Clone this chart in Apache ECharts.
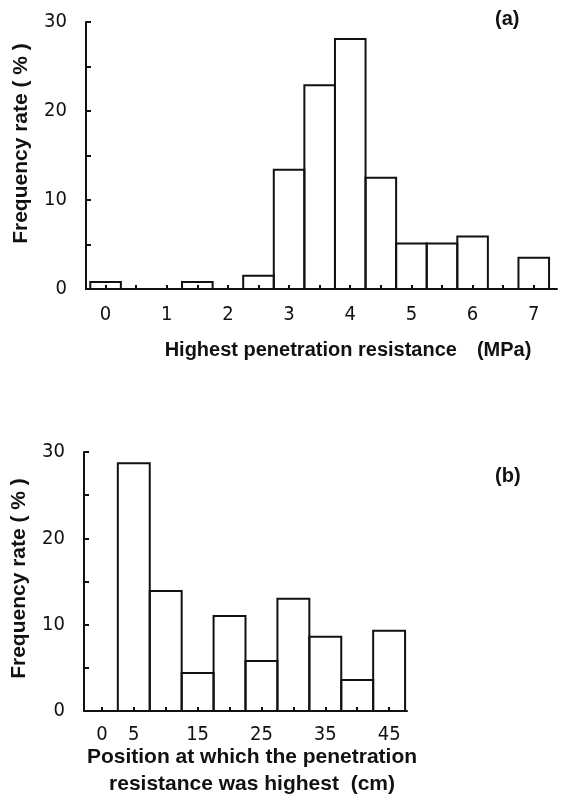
<!DOCTYPE html>
<html>
<head>
<meta charset="utf-8">
<script src="https://cdn.jsdelivr.net/npm/echarts@6/dist/echarts.min.js"></script>
<style>
  html, body { margin: 0; padding: 0; background: #fff; }
  #main { width: 566px; height: 801px; }
</style>
</head>
<body>
<div id="main"></div>
<script>
// (a) highest penetration resistance, MPa -> frequency %
var pressureBins = [0, 0.5, 1, 1.5, 2, 2.5, 3, 3.5, 4, 4.5, 5, 5.5, 6, 6.5, 7];
var pressureFreq = [0.8, 0, 0, 0.8, 0, 1.5, 13.4, 22.9, 28.1, 12.5, 5.1, 5.1, 5.9, 0, 3.5];
var pressureTicks = [0, 0.5, 1, 1.5, 2, 2.5, 3, 3.5, 4, 4.5, 5, 5.5, 6, 6.5, 7];
var pressureLabels = [0, 1, 2, 3, 4, 5, 6, 7];

// (b) depth of the highest resistance, cm -> frequency %
var depthBins = [5, 10, 15, 20, 25, 30, 35, 40, 45];
var depthFreq = [28.7, 13.9, 4.4, 11.0, 5.8, 13.0, 8.6, 3.6, 9.3];
var depthTicks = [0, 5, 10, 15, 20, 25, 30, 35, 40, 45];
var depthLabels = [0, 5, 15, 25, 35, 45];

var ink = '#111';
var narrow = "'Liberation Sans Narrow', 'DejaVu Sans Condensed', sans-serif";
var bold = "'Liberation Sans', Arial, sans-serif";

function histBars(halfWidth) {
    return function(params, api) {
        var x = api.value(0), v = api.value(1);
        if (!v) return;
        var p0 = api.coord([x - halfWidth, v]);
        var p1 = api.coord([x + halfWidth, 0]);
        return {
            type: 'rect',
            shape: { x: p0[0], y: p0[1], width: p1[0] - p0[0], height: p1[1] - p0[1] },
            style: { fill: 'none', stroke: ink, lineWidth: 2 }
        };
    };
}

function zip(a, b) {
    return a.map(function(x, i) { return [x, b[i]]; });
}

function xAxisCfg(grid, min, max, ticks, labels, name, gap, size, pad, margin) {
    return {
        type: 'value', gridIndex: grid, min: min, max: max,
        splitLine: { show: false },
        axisLine: { onZero: false, lineStyle: { color: ink, width: 2 } },
        axisTick: { inside: true, length: 4, customValues: ticks, lineStyle: { color: ink, width: 2 } },
        axisLabel: { customValues: labels, margin: margin, fontFamily: narrow, fontSize: 20, color: ink },
        name: name, nameLocation: 'middle', nameGap: gap, nameMoveOverlap: false,
        nameTextStyle: { fontFamily: bold, fontWeight: 'bold', fontSize: size, color: ink, lineHeight: 27, padding: pad }
    };
}

function yAxisCfg(grid, gap, pad) {
    return {
        type: 'value', gridIndex: grid, min: 0, max: 30, interval: 10,
        splitLine: { show: false },
        axisLine: { show: true, onZero: false, lineStyle: { color: ink, width: 2 } },
        axisTick: { show: true, inside: true, length: 5, lineStyle: { color: ink, width: 2 } },
        minorTick: { show: true, splitNumber: 2, length: 5, lineStyle: { color: ink, width: 2 } },
        axisLabel: { margin: 19, fontFamily: narrow, fontSize: 20, color: ink },
        name: 'Frequency rate ( % )', nameLocation: 'middle', nameGap: gap, nameMoveOverlap: false,
        nameTextStyle: { fontFamily: bold, fontWeight: 'bold', fontSize: 21, color: ink, padding: pad }
    };
}

var myChart = echarts.init(document.getElementById('main'), null, { renderer: 'canvas' });

var option = {
    backgroundColor: '#fff',
    animation: false,
    grid: [
        { left: 86, top: 22, width: 471, height: 267 },
        { left: 84, top: 452, width: 323, height: 259 }
    ],
    xAxis: [
        xAxisCfg(0, -0.32, 7.38, pressureTicks, pressureLabels,
            'Highest penetration resistance\u3000(MPa)', 48, 20, [0, 0, 0, 53], 16),
        xAxisCfg(1, -2.8, 47.8, depthTicks, depthLabels,
            'Position at which the penetration\nresistance was highest  (cm)', 33, 21, [0, 0, 0, 13], 14)
    ],
    yAxis: [
        yAxisCfg(0, 54, [0, 0, 0, 24]),
        yAxisCfg(1, 54, [0, 0, 0, 6])
    ],
    graphic: [
        { type: 'text', left: 495, top: 9, style: { text: '(a)', font: 'bold 20px ' + bold, fill: ink } },
        { type: 'text', left: 495, top: 466, style: { text: '(b)', font: 'bold 20px ' + bold, fill: ink } }
    ],
    series: [
        { type: 'custom', xAxisIndex: 0, yAxisIndex: 0, renderItem: histBars(0.25), data: zip(pressureBins, pressureFreq) },
        { type: 'custom', xAxisIndex: 1, yAxisIndex: 1, renderItem: histBars(2.5), data: zip(depthBins, depthFreq) }
    ]
};

option && myChart.setOption(option);
</script>
</body>
</html>
